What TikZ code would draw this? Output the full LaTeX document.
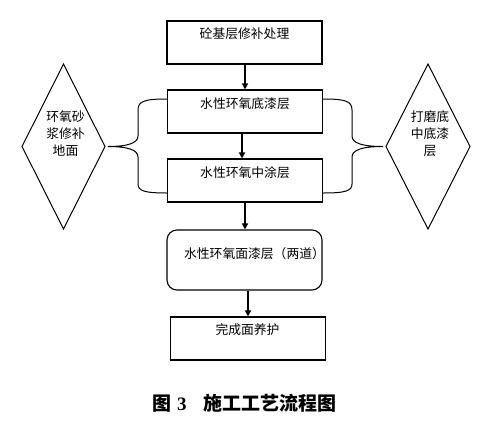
\documentclass[tikz,border=0pt]{standalone}
\usepackage{fontspec}
\newfontfamily\cjk{Noto Sans CJK SC}
\setmainfont{Liberation Serif}
\usetikzlibrary{arrows.meta}
\tikzset{
  box/.style={draw, line width=1.1pt, minimum width=155pt, minimum height=43pt, inner sep=0pt},
  dia/.style={draw, line width=1pt},
  lbl/.style={font=\cjk\fontsize{12.8}{16.7}\selectfont, inner sep=0pt, align=center},
  arr/.style={line width=1.3pt, -{Triangle[length=6pt,width=6pt]}},
  brace/.style={line width=1pt}
}
\begin{document}
\begin{tikzpicture}[x=1pt,y=-1pt]
\useasboundingbox (0,0) rectangle (489,429);
\node[box] (b1) at (244.5,42.5) {};
\node[lbl] (t1) at (244.5,33.5) {砼基层修补处理};
\node[box] (b2) at (245,111.5) {};
\node[lbl] (t2) at (245,103.5) {水性环氧底漆层};
\node[box] (b3) at (245,180.5) {};
\node[lbl] (t3) at (245,172.5) {水性环氧中涂层};
\node[box, minimum height=60pt, rounded corners=10pt] (b4) at (244.5,260) {};
\node[lbl] (t4) at (254.5,254) {水性环氧面漆层（两道）};
\node[box] (b5) at (248,338.5) {};
\node[lbl] (t5) at (247.5,330) {完成面养护};
% diamonds
\draw[dia] (22,146.5) -- (63.5,64) -- (105,146.5) -- (63.5,229) -- cycle;
\node[lbl] (dl) at (65.5,133.5) {环氧砂\\浆修补\\地面};
\draw[dia] (386,146.5) -- (428,64) -- (470,146.5) -- (428,229) -- cycle;
\node[lbl] (dr) at (430,133.5) {打磨底\\中底漆\\层};
% arrows
\draw[arr] ([xshift=0.5pt]b1.south) -- ([xshift=0pt]b2.north);
\draw[arr] ([xshift=-3pt]b2.south) -- ([xshift=-3pt]b3.north);
\draw[arr] ([xshift=0pt]b3.south) -- ([xshift=0.5pt]b4.north);
\draw[arr] ([xshift=3.5pt]b4.south) -- ([xshift=0pt]b5.north);
% braces
\coordinate (lt) at (167,99);
\coordinate (lb) at (167,193);
\coordinate (ltip) at (108,146.5);
\draw[brace] (lt) .. controls (145,99) and (138,101) .. (138,110) -- (138,136)
  .. controls (138,143) and (128,146.5) .. (ltip)
  .. controls (128,146.5) and (138,150) .. (138,157) -- (138,184)
  .. controls (138,191) and (145,193) .. (lb);
\coordinate (rt) at (323,99);
\coordinate (rb) at (323,193);
\coordinate (rtip) at (383,146.5);
\draw[brace] (rt) .. controls (345,99) and (352,101) .. (352,110) -- (352,136)
  .. controls (352,143) and (362,146.5) .. (rtip)
  .. controls (362,146.5) and (352,150) .. (352,157) -- (352,184)
  .. controls (352,191) and (345,193) .. (rb);
% caption
\node[font=\cjk\bfseries\fontsize{19}{22}\selectfont, inner sep=0pt] (cap) at (244.5,403) {图\hspace{0.3em}{\rmfamily\bfseries 3}\hspace{0.9em}施工工艺流程图};
\end{tikzpicture}
\end{document}
